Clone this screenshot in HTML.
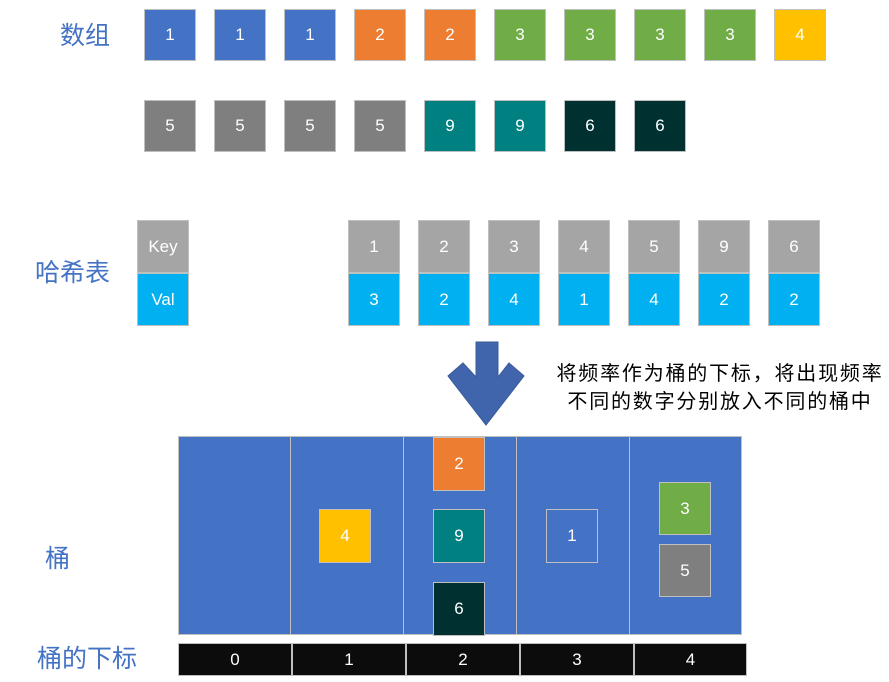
<!DOCTYPE html><html><head><meta charset="utf-8"><style>
body{margin:0;width:889px;height:682px;background:#fff;overflow:hidden;position:relative;font-family:"Liberation Sans","Noto Sans CJK SC",sans-serif}
.b{position:absolute;width:52px;height:52px;color:#fff;font-size:17px;display:flex;align-items:center;justify-content:center;box-sizing:border-box;border:1px solid #bfbfbf}
.l{position:absolute;color:#4472C4;font-size:25px;font-family:"Noto Sans CJK SC",sans-serif;line-height:1}
</style></head><body>
<div class="l" style="left:60px;top:22px">数组</div>
<div class="l" style="left:35px;top:259px">哈希表</div>
<div class="l" style="left:45px;top:545px">桶</div>
<div class="l" style="left:37px;top:645px">桶的下标</div>

<div class="b" style="left:144px;top:9px;background:#4472C4">1</div>
<div class="b" style="left:214px;top:9px;background:#4472C4">1</div>
<div class="b" style="left:284px;top:9px;background:#4472C4">1</div>
<div class="b" style="left:354px;top:9px;background:#ED7D31">2</div>
<div class="b" style="left:424px;top:9px;background:#ED7D31">2</div>
<div class="b" style="left:494px;top:9px;background:#70AD47">3</div>
<div class="b" style="left:564px;top:9px;background:#70AD47">3</div>
<div class="b" style="left:634px;top:9px;background:#70AD47">3</div>
<div class="b" style="left:704px;top:9px;background:#70AD47">3</div>
<div class="b" style="left:774px;top:9px;background:#FFC000">4</div>

<div class="b" style="left:144px;top:100px;background:#7F7F7F">5</div>
<div class="b" style="left:214px;top:100px;background:#7F7F7F">5</div>
<div class="b" style="left:284px;top:100px;background:#7F7F7F">5</div>
<div class="b" style="left:354px;top:100px;background:#7F7F7F">5</div>
<div class="b" style="left:424px;top:100px;background:#008080">9</div>
<div class="b" style="left:494px;top:100px;background:#008080">9</div>
<div class="b" style="left:564px;top:100px;background:#003030">6</div>
<div class="b" style="left:634px;top:100px;background:#003030">6</div>

<div class="b" style="left:137px;top:220px;height:53px;background:#A5A5A5">Key</div>
<div class="b" style="left:137px;top:273px;height:53px;background:#00B0F0">Val</div>
<div class="b" style="left:348px;top:220px;height:53px;background:#A5A5A5">1</div>
<div class="b" style="left:348px;top:273px;height:53px;background:#00B0F0">3</div>
<div class="b" style="left:418px;top:220px;height:53px;background:#A5A5A5">2</div>
<div class="b" style="left:418px;top:273px;height:53px;background:#00B0F0">2</div>
<div class="b" style="left:488px;top:220px;height:53px;background:#A5A5A5">3</div>
<div class="b" style="left:488px;top:273px;height:53px;background:#00B0F0">4</div>
<div class="b" style="left:558px;top:220px;height:53px;background:#A5A5A5">4</div>
<div class="b" style="left:558px;top:273px;height:53px;background:#00B0F0">1</div>
<div class="b" style="left:628px;top:220px;height:53px;background:#A5A5A5">5</div>
<div class="b" style="left:628px;top:273px;height:53px;background:#00B0F0">4</div>
<div class="b" style="left:698px;top:220px;height:53px;background:#A5A5A5">9</div>
<div class="b" style="left:698px;top:273px;height:53px;background:#00B0F0">2</div>
<div class="b" style="left:768px;top:220px;height:53px;background:#A5A5A5">6</div>
<div class="b" style="left:768px;top:273px;height:53px;background:#00B0F0">2</div>

<svg style="position:absolute;left:0;top:0" width="889" height="682">
<polygon points="476,342 498,342 498,377 509,363 524,376 486,425 448,376 463,363 476,377" fill="#4065AC" stroke="#3a5a9a"/>
</svg>
<div style="position:absolute;left:540px;top:358px;width:360px;text-align:center;font-size:20px;letter-spacing:1.8px;line-height:28px;color:#000;font-family:'Noto Sans CJK SC',sans-serif">将频率作为桶的下标，将出现频率<br>不同的数字分别放入不同的桶中</div>

<div style="position:absolute;left:178px;top:436px;width:113px;height:199px;background:#4472C4;border:1px solid #bfbfbf;box-sizing:border-box"></div>
<div style="position:absolute;left:290px;top:436px;width:114px;height:199px;background:#4472C4;border:1px solid #bfbfbf;box-sizing:border-box"></div>
<div style="position:absolute;left:403px;top:436px;width:114px;height:199px;background:#4472C4;border:1px solid #bfbfbf;box-sizing:border-box"></div>
<div style="position:absolute;left:516px;top:436px;width:114px;height:199px;background:#4472C4;border:1px solid #bfbfbf;box-sizing:border-box"></div>
<div style="position:absolute;left:629px;top:436px;width:113px;height:199px;background:#4472C4;border:1px solid #bfbfbf;box-sizing:border-box"></div>

<div class="b" style="left:319px;top:509px;height:54px;background:#FFC000">4</div>
<div class="b" style="left:433px;top:437px;height:54px;background:#ED7D31">2</div>
<div class="b" style="left:433px;top:509px;height:54px;background:#008080">9</div>
<div class="b" style="left:433px;top:582px;height:54px;background:#003030">6</div>
<div class="b" style="left:546px;top:509px;height:54px;background:#4472C4">1</div>
<div class="b" style="left:659px;top:482px;height:53px;background:#70AD47">3</div>
<div class="b" style="left:659px;top:544px;height:53px;background:#7F7F7F">5</div>

<div class="b" style="left:178px;top:643px;width:114px;height:33px;background:#0c0c0c">0</div>
<div class="b" style="left:292px;top:643px;width:114px;height:33px;background:#0c0c0c">1</div>
<div class="b" style="left:406px;top:643px;width:114px;height:33px;background:#0c0c0c">2</div>
<div class="b" style="left:520px;top:643px;width:114px;height:33px;background:#0c0c0c">3</div>
<div class="b" style="left:634px;top:643px;width:113px;height:33px;background:#0c0c0c">4</div>
</body></html>
